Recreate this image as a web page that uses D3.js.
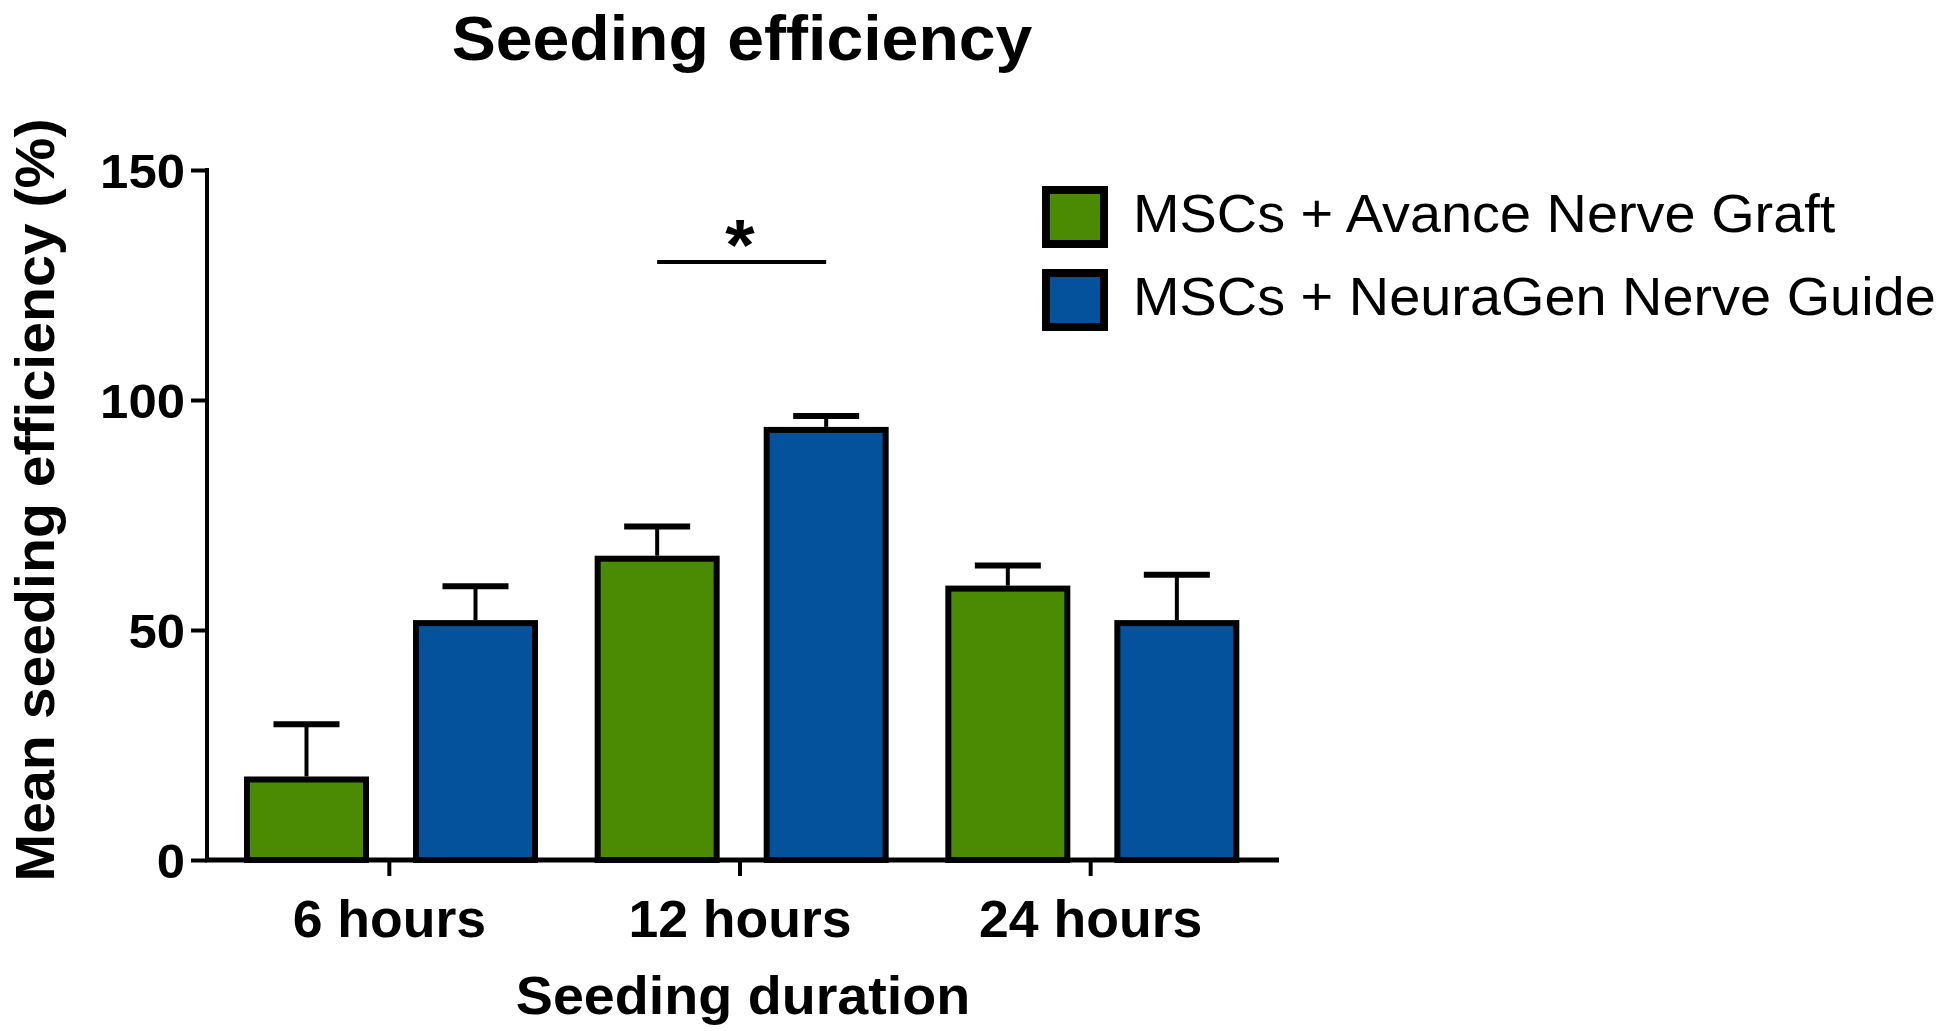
<!DOCTYPE html>
<html>
<head>
<meta charset="utf-8">
<script src="https://cdn.jsdelivr.net/npm/d3@7"></script>
<style>
  html, body { margin: 0; padding: 0; background: #fff; }
  svg { display: block; font-family: "Liberation Sans", Arial, sans-serif; }
</style>
</head>
<body>
<svg id="chart" width="1946" height="1031"></svg>
<script>
// data
const groups = ['6 hours', '12 hours', '24 hours'];
const series = ['MSCs + Avance Nerve Graft', 'MSCs + NeuraGen Nerve Guide'];
const avanceMean = [17.5, 65.5, 59];
const avanceErr = [12, 7, 5];
const neuraMean = [51.5, 93.5, 51.5];
const neuraErr = [8, 3, 10.5];
const yTicks = [0, 50, 100, 150];
const colors = ['#4b8b04', '#03529b'];

const rows = [];
groups.forEach((g, i) => {
  rows.push({ group: g, series: series[0], value: avanceMean[i], err: avanceErr[i] });
  rows.push({ group: g, series: series[1], value: neuraMean[i], err: neuraErr[i] });
});

const svg = d3.select('#chart');

// text helper: anchor at (x,y), optionally stretched horizontally
function label(parent, x, y, txt, size, weight, anchor, rotate, sx) {
  return parent.append('text')
    .attr('transform', `translate(${x},${y})${rotate ? ' rotate(-90)' : ''} scale(${sx || 1.05},1)`)
    .attr('text-anchor', anchor || 'middle')
    .attr('fill', '#000')
    .style('font-size', size + 'px')
    .style('font-weight', weight || 'bold')
    .text(txt);
}

const y = d3.scaleLinear().domain([0, 150]).range([860, 170]);
const x0 = d3.scaleBand().domain(groups).range([214, 1266]).padding(0);
const x1 = d3.scaleBand().domain(series).range([33, 321]).paddingInner(0.296);
const color = d3.scaleOrdinal().domain(series).range(colors);

// bars
svg.append('g').selectAll('rect')
  .data(rows)
  .join('rect')
  .attr('x', d => x0(d.group) + x1(d.series))
  .attr('y', d => y(d.value))
  .attr('width', x1.bandwidth())
  .attr('height', d => y(0) - y(d.value))
  .attr('fill', d => color(d.series))
  .attr('stroke', '#000')
  .attr('stroke-width', 6);

// error bars (upper only)
const eb = svg.append('g').attr('stroke', '#000');
eb.selectAll('line.v')
  .data(rows)
  .join('line')
  .attr('class', 'v')
  .attr('x1', d => x0(d.group) + x1(d.series) + x1.bandwidth() / 2)
  .attr('x2', d => x0(d.group) + x1(d.series) + x1.bandwidth() / 2)
  .attr('y1', d => y(d.value) - 3)
  .attr('y2', d => y(d.value + d.err))
  .attr('stroke-width', 4);
eb.selectAll('line.cap')
  .data(rows)
  .join('line')
  .attr('class', 'cap')
  .attr('x1', d => x0(d.group) + x1(d.series) + x1.bandwidth() / 2 - 33)
  .attr('x2', d => x0(d.group) + x1(d.series) + x1.bandwidth() / 2 + 33)
  .attr('y1', d => y(d.value + d.err))
  .attr('y2', d => y(d.value + d.err))
  .attr('stroke-width', 6);

// y axis
const yAxis = svg.append('g')
  .attr('transform', 'translate(207,0)')
  .call(d3.axisLeft(y).tickValues(yTicks).tickSize(16).tickPadding(6));
yAxis.select('.domain').attr('stroke-width', 4).attr('d', 'M0,168V862');
yAxis.selectAll('.tick line').attr('stroke-width', 4);
yAxis.selectAll('.tick text').remove();
yAxis.selectAll('.tick').each(function (d) {
  label(d3.select(this), -22, 17, d, 48, 'bold', 'end', false, 1.06);
});

// x axis
const xAxis = svg.append('g')
  .attr('transform', 'translate(0,860)')
  .call(d3.axisBottom(x0).tickSize(16).tickPadding(8));
xAxis.select('.domain').attr('stroke-width', 5).attr('d', 'M205,0H1279');
xAxis.selectAll('.tick line').attr('stroke-width', 4);
xAxis.selectAll('.tick text').remove();
xAxis.selectAll('.tick').each(function (d) {
  label(d3.select(this), 0, 77, d, 51, 'bold', 'middle');
});

// significance marker between 12h bars
const sigY = y(130);
const gx = x0('12 hours');
svg.append('line')
  .attr('x1', gx + x1(series[0]) + x1.bandwidth() / 2)
  .attr('x2', gx + x1(series[1]) + x1.bandwidth() / 2)
  .attr('y1', sigY).attr('y2', sigY)
  .attr('stroke', '#000').attr('stroke-width', 4);
label(svg, gx + x0.bandwidth() / 2, sigY + 8, '*', 72, 'bold', 'middle');

// titles
label(svg, 742, 60, 'Seeding efficiency', 63, 'bold', 'middle', false, 1.05);
label(svg, 743, 1014, 'Seeding duration', 53, 'bold', 'middle');
label(svg, 54, 500, 'Mean seeding efficiency (%)', 55, 'bold', 'middle', true, 1.04);

// legend
const legend = svg.append('g').attr('transform', 'translate(1046,190)');
series.forEach((s, i) => {
  const row = legend.append('g').attr('transform', `translate(0,${i * 83})`);
  row.append('rect')
    .attr('width', 58).attr('height', 54)
    .attr('fill', colors[i])
    .attr('stroke', '#000').attr('stroke-width', 8);
  label(row, 87, 42, s, 54, 'normal', 'start', false, 1.035);
});
</script>
</body>
</html>
